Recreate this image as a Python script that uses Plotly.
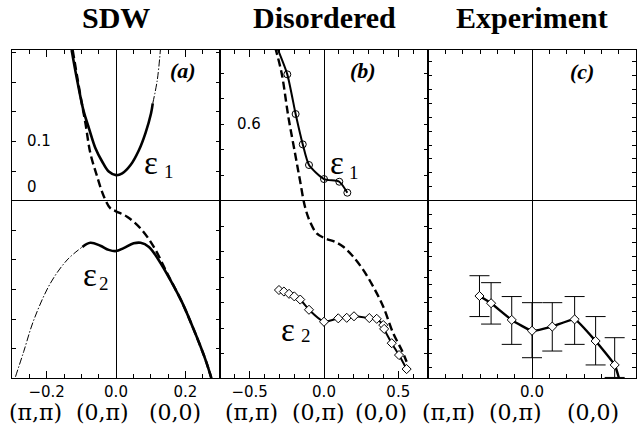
import plotly.graph_objects as go

# ---------------- data ----------------
# Panel (a): SDW
a_e1_x = [-0.128, -0.112, -0.093, -0.078, -0.059, -0.040, -0.021, 0.0, 0.018, 0.042, 0.066, 0.085, 0.101, 0.106]
a_e1_y = [0.254, 0.203, 0.150, 0.122, 0.088, 0.066, 0.049, 0.043, 0.046, 0.060, 0.085, 0.114, 0.147, 0.164]
a_e1_ext_x = [0.106, 0.119, 0.128]
a_e1_ext_y = [0.164, 0.203, 0.254]
a_bare_x = [-0.125, -0.102, -0.088, -0.074, -0.054, -0.035, -0.016, 0.0, 0.032, 0.071, 0.109, 0.148, 0.191, 0.224, 0.258, 0.275]
a_bare_y = [0.254, 0.175, 0.130, 0.080, 0.040, 0.007, -0.013, -0.018, -0.027, -0.047, -0.078, -0.123, -0.172, -0.217, -0.268, -0.299]
a_e2_ext_x = [-0.290, -0.266, -0.237, -0.189, -0.141, -0.097]
a_e2_ext_y = [-0.297, -0.254, -0.201, -0.139, -0.100, -0.078]
a_e2_x = [-0.097, -0.074, -0.045, -0.021, 0.0, 0.022, 0.051, 0.071, 0.095, 0.123, 0.157, 0.191, 0.224, 0.258, 0.275]
a_e2_y = [-0.078, -0.071, -0.076, -0.083, -0.085, -0.080, -0.072, -0.071, -0.078, -0.100, -0.134, -0.172, -0.217, -0.268, -0.299]

# Panel (b): Disordered
b_e1_x = [-0.318, -0.247, -0.191, -0.143, -0.101, 0.0, 0.103, 0.157]
b_e1_y = [1.208, 0.991, 0.680, 0.442, 0.280, 0.170, 0.149, 0.063]
b_bare_x = [-0.330, -0.285, -0.240, -0.195, -0.162, -0.128, -0.094, -0.049, 0.007, 0.074, 0.130, 0.197, 0.265, 0.332, 0.399, 0.466, 0.523, 0.556]
b_bare_y = [1.208, 0.999, 0.659, 0.372, 0.162, -0.047, -0.165, -0.256, -0.295, -0.322, -0.361, -0.439, -0.544, -0.675, -0.831, -1.040, -1.171, -1.263]
b_e2_x = [-0.303, -0.270, -0.235, -0.200, -0.160, -0.101, 0.0, 0.096, 0.153, 0.202, 0.305, 0.355, 0.399, 0.405, 0.456, 0.505, 0.556]
b_e2_y = [-0.700, -0.712, -0.730, -0.750, -0.775, -0.855, -0.949, -0.922, -0.918, -0.906, -0.920, -0.926, -0.975, -1.005, -1.117, -1.210, -1.320]

# Panel (c): Experiment
c_x = [-0.303, -0.236, -0.117, 0.0, 0.117, 0.246, 0.367, 0.477, 0.502]
c_y = [-0.343, -0.369, -0.429, -0.468, -0.453, -0.427, -0.505, -0.591, -0.639]
c_err_top = [-0.270, -0.295, -0.345, -0.367, -0.367, -0.345, -0.417, -0.493]
c_err_bot = [-0.417, -0.444, -0.517, -0.565, -0.541, -0.517, -0.591, -0.636]

titles = ["SDW", "Disordered", "Experiment"]
panel_tags = ["(a)", "(b)", "(c)"]
k_labels = ["(π,π)", "(0,π)", "(0,0)"]

# ---------------- figure ----------------
W, H = 637, 424
fig = go.Figure()

BLACK = "black"
thick = dict(color=BLACK, width=2.6)
dashed = dict(color=BLACK, width=2.4, dash="8px,4px")
dashdot = dict(color=BLACK, width=1, dash="7px,2px,1.5px,2px")

# panel a
fig.add_trace(go.Scatter(x=a_bare_x, y=a_bare_y, mode="lines", line=dict(dashed, shape="spline"), xaxis="x", yaxis="y"))
fig.add_trace(go.Scatter(x=a_e1_ext_x, y=a_e1_ext_y, mode="lines", line=dict(dashdot, shape="spline"), xaxis="x", yaxis="y"))
fig.add_trace(go.Scatter(x=a_e2_ext_x, y=a_e2_ext_y, mode="lines", line=dict(dashdot, shape="spline"), xaxis="x", yaxis="y"))
fig.add_trace(go.Scatter(x=a_e1_x, y=a_e1_y, mode="lines", line=dict(thick, shape="spline"), xaxis="x", yaxis="y"))
fig.add_trace(go.Scatter(x=a_e2_x, y=a_e2_y, mode="lines", line=dict(thick, shape="spline"), xaxis="x", yaxis="y"))

# panel b
fig.add_trace(go.Scatter(x=b_bare_x, y=b_bare_y, mode="lines", line=dict(dashed, shape="spline"), xaxis="x2", yaxis="y2"))
fig.add_trace(go.Scatter(x=b_e1_x, y=b_e1_y, mode="lines", line=dict(color=BLACK, width=2, shape="spline", smoothing=0.6),
                         xaxis="x2", yaxis="y2"))
fig.add_trace(go.Scatter(x=b_e1_x[1:], y=b_e1_y[1:], mode="markers",
                         marker=dict(symbol="circle-open", size=7, color=BLACK, line=dict(width=1)),
                         xaxis="x2", yaxis="y2"))
fig.add_trace(go.Scatter(x=b_e2_x, y=b_e2_y, mode="lines+markers",
                         line=dict(color=BLACK, width=2, shape="spline", smoothing=0.5),
                         marker=dict(symbol="diamond", size=7, color="white", line=dict(color=BLACK, width=1)),
                         xaxis="x2", yaxis="y2"))

# panel c
fig.add_trace(go.Scatter(x=c_x, y=c_y, mode="lines", line=dict(color=BLACK, width=2.4, shape="spline", smoothing=0.4),
                         xaxis="x3", yaxis="y3"))
fig.add_trace(go.Scatter(
    x=c_x[:-1], y=c_y[:-1], mode="markers",
    marker=dict(symbol="diamond", size=7, color="white", line=dict(color=BLACK, width=1)),
    error_y=dict(type="data", symmetric=False,
                 array=[t - v for t, v in zip(c_err_top, c_y)],
                 arrayminus=[v - b for b, v in zip(c_err_bot, c_y)],
                 color=BLACK, thickness=1, width=10),
    xaxis="x3", yaxis="y3"))

# ---------------- axes ----------------
x_dom = [[12 / W, 220 / W], [220 / W, 428 / W], [428 / W, 636 / W]]
y_dom = [(H - 378) / H, (H - 50) / H]
x_ranges = [[-0.3, 0.3], [-0.7, 0.7], [-0.6, 0.6]]
y_ranges = [[-0.299, 0.254], [-1.39, 1.182], [-0.638, 0.542]]
x_major = [[-0.2, 0.0, 0.2], [-0.5, 0.0, 0.5], [0.0]]
x_major_txt = [["−0.2", "0.0", "0.2"], ["−0.5", "0.0", "0.5"], ["0.0"]]
x_minor = [0.05, 0.1, 0.1]
y_dt = [0.05, 0.2, 0.05]

tickfont = dict(family="DejaVu Sans", size=15, color=BLACK)
for i in range(3):
    sx = "" if i == 0 else str(i + 1)
    fig.layout["xaxis" + sx] = dict(
        domain=x_dom[i], range=x_ranges[i], anchor="y" + sx,
        showline=True, linecolor=BLACK, linewidth=1, mirror="ticks",
        ticks="inside", ticklen=7, tickcolor=BLACK, tickwidth=1,
        tickvals=x_major[i], ticktext=x_major_txt[i], tickfont=tickfont,
        ticklabelstandoff=0,
        minor=dict(dtick=x_minor[i], tick0=0, ticks="inside", ticklen=4, tickcolor=BLACK),
        showgrid=False, zeroline=True, zerolinecolor=BLACK, zerolinewidth=1,
    )
    fig.layout["yaxis" + sx] = dict(
        domain=y_dom, range=y_ranges[i], anchor="x" + sx,
        showline=True, linecolor=BLACK, linewidth=1, mirror="ticks",
        ticks="inside", ticklen=4, tickcolor=BLACK, tickwidth=1,
        tick0=0, dtick=y_dt[i], showticklabels=False,
        showgrid=False, zeroline=True, zerolinecolor=BLACK, zerolinewidth=1,
    )

# ---------------- text ----------------
ann = []
serif = "Liberation Serif"
for i in range(3):
    cx = (x_dom[i][0] + x_dom[i][1]) / 2
    ann.append(dict(text="<b>%s</b>" % titles[i], x=cx, y=1 - 17 / H, xref="paper", yref="paper",
                    xanchor="center", yanchor="middle", showarrow=False,
                    font=dict(family=serif, size=30, color=BLACK)))

# panel tags
tag_pos = [(0.193, 0.220), (0.262, 1.025), (0.286, 0.463)]
for i in range(3):
    sx = "" if i == 0 else str(i + 1)
    ann.append(dict(text="<b><i>%s</i></b>" % panel_tags[i], x=tag_pos[i][0], y=tag_pos[i][1],
                    xref="x" + sx, yref="y" + sx, showarrow=False, xanchor="center", yanchor="middle",
                    font=dict(family=serif, size=22, color=BLACK)))

# k-point labels (pixel centres measured on the reference)
k_px = [[35, 102, 175], [251, 318, 381], [448, 515, 593]]
for i in range(3):
    for j in range(3):
        ann.append(dict(text=k_labels[j], x=k_px[i][j] / W, y=(H - 412) / H, xref="paper", yref="paper",
                        showarrow=False, xanchor="center", yanchor="middle",
                        font=dict(family="DejaVu Serif", size=22, color=BLACK)))

# inside y labels
ann.append(dict(text="0.1", x=-0.262, y=0.1, xref="x", yref="y", xanchor="left", yanchor="middle",
                showarrow=False, font=tickfont))
ann.append(dict(text="0", x=-0.262, y=0.023, xref="x", yref="y", xanchor="left", yanchor="middle",
                showarrow=False, font=tickfont))
ann.append(dict(text="0.6", x=-0.599, y=0.6, xref="x2", yref="y2", xanchor="left", yanchor="middle",
                showarrow=False, font=tickfont))

# band labels
eps_font = dict(family=serif, size=33, color=BLACK)
sub_font = dict(family=serif, size=19, color=BLACK)
band_lbls = [
    ("ε", 0.101, 0.0635, "x", "y", eps_font), ("1", 0.153, 0.050, "x", "y", sub_font),
    ("ε", -0.075, -0.125, "x", "y", eps_font), ("2", -0.035, -0.139, "x", "y", sub_font),
    ("ε", 0.087, 0.296, "x2", "y2", eps_font), ("1", 0.202, 0.225, "x2", "y2", sub_font),
    ("ε", -0.242, -1.014, "x2", "y2", eps_font), ("2", -0.121, -1.053, "x2", "y2", sub_font),
]
for t, x, y, xr, yr, f in band_lbls:
    ann.append(dict(text=t, x=x, y=y, xref=xr, yref=yr, showarrow=False,
                    xanchor="center", yanchor="middle", font=f))

fig.update_layout(
    width=W, height=H, autosize=False,
    margin=dict(l=0, r=0, t=0, b=0),
    paper_bgcolor="white", plot_bgcolor="white",
    showlegend=False, annotations=ann,
)

fig.write_html("out.html", config={"displayModeBar": False},
               post_script="document.body.style.margin='0';document.body.style.overflow='hidden';")
